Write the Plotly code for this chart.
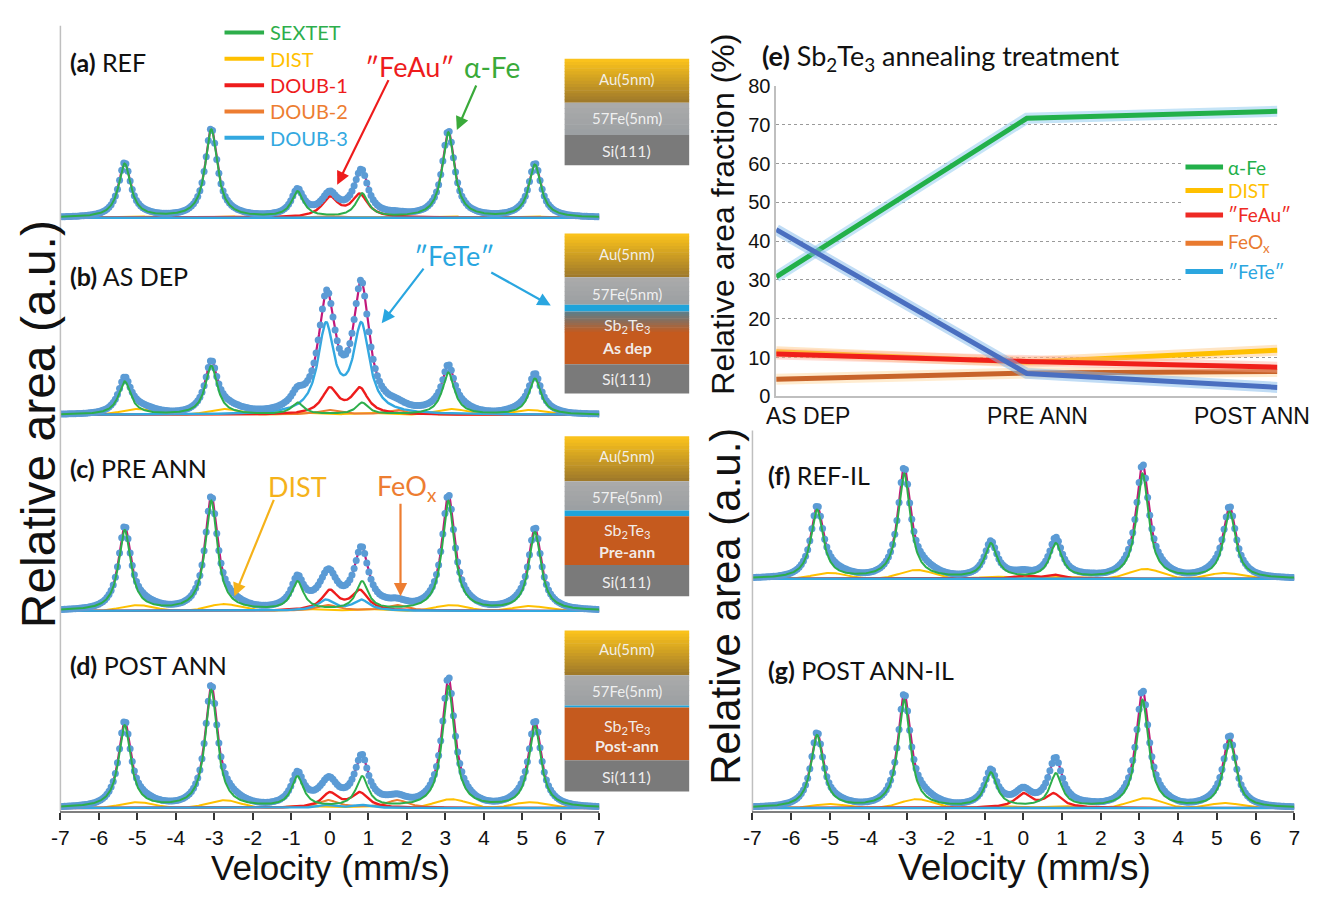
import numpy as np
import plotly.graph_objects as go

W, H = 1320, 898

# ======================= DATA =======================
# Mossbauer fit components: line positions (mm/s) and widths
SEXTET_POS = [-5.33, -3.08, -0.84, 0.84, 3.08, 5.33]   # SEXTET (alpha-Fe)
DIST_POS = [-5.0, -2.75, -0.7, 0.95, 3.15, 5.2]        # DIST (distributed sextet)
DOUB1_POS = [0.0, 0.78]                                # DOUB-1  "FeAu"
DOUB2_POS = [-0.05, 1.75]                              # DOUB-2  FeOx
DOUB3_POS = [-0.1, 0.82]                               # DOUB-3  "FeTe"
SEXTET_FWHM = 0.38
DIST_SIGMA = 0.42
DOUB1_FWHM = 0.5
DOUB2_FWHM = 0.65
DOUB3_FWHM = 0.5

# component line heights (a.u.) for each spectrum
SEXTET_A = [55, 90, 26, 24, 87, 54]
SEXTET_B = [34, 50, 12, 12, 43, 37]
SEXTET_C = [82, 112, 29, 29, 112, 80]
SEXTET_D = [84, 120, 31, 31, 124, 83]
SEXTET_F = [70, 107, 35, 35, 107, 68]
SEXTET_G = [74, 110, 35, 34, 110, 69]

DIST_A = [1.5, 1.5, 0.5, 0.5, 1.5, 1.5]
DIST_B = [6, 6, 2, 2, 6, 5]
DIST_C = [6, 7, 2, 2, 6, 5]
DIST_D = [6, 8, 2, 2, 9, 6]
DIST_F = [6, 9, 2, 2, 10, 6]
DIST_G = [4, 9, 2, 2, 10, 5]

DOUB1_A = [20, 23]
DOUB1_B = [26, 26]
DOUB1_C = [20, 20]
DOUB1_D = [15, 15]
DOUB1_F = [3, 4]
DOUB1_G = [14, 14]

DOUB2_A = [2, 2]
DOUB2_B = [5, 5]
DOUB2_C = [6, 6]
DOUB2_D = [8, 8]
DOUB2_F = [1, 1]
DOUB2_G = [1, 1]

DOUB3_A = [0, 0]
DOUB3_B = [89, 89]
DOUB3_C = [11, 11]
DOUB3_D = [3, 3]
DOUB3_F = [0, 0]
DOUB3_G = [0, 0]

PANEL_TAGS = ["(a)", "(b)", "(c)", "(d)", "(f)", "(g)"]
PANEL_NAMES = ["REF", "AS DEP", "PRE ANN", "POST ANN", "REF-IL", "POST ANN-IL"]
VEL_TICKS = [-7, -6, -5, -4, -3, -2, -1, 0, 1, 2, 3, 4, 5, 6, 7]
VEL_TICKTEXT = ["-7", "-6", "-5", "-4", "-3", "-2", "-1", "0", "1", "2", "3", "4", "5", "6", "7"]

# (e) relative area fractions (%)
TREATMENTS = ["AS DEP", "PRE ANN", "POST ANN"]
FRAC_ALPHA_FE = [30.8, 71.7, 73.5]
FRAC_DIST = [11.5, 8.8, 11.9]
FRAC_FEAU = [10.9, 9.0, 7.5]
FRAC_FEOX = [4.4, 6.0, 6.4]
FRAC_FETE = [43.0, 5.9, 2.3]

# ======================= helpers =======================
def lor(v, pos, hts, fw):
    out = np.zeros_like(v)
    for c, h in zip(pos, hts):
        out += h / (1.0 + ((v - c) / (fw / 2.0)) ** 2)
    return out


def gau(v, pos, hts, s):
    out = np.zeros_like(v)
    for c, h in zip(pos, hts):
        out += h * np.exp(-0.5 * ((v - c) / s) ** 2)
    return out


def X(p):
    return p / W


def Y(p):
    return 1 - p / H


ann = []
shapes = []


def note(x, y, text, size, color="#111111", family="Lato", xanchor="center", angle=0):
    ann.append(dict(x=X(x), y=Y(y), xref="paper", yref="paper", text=text, showarrow=False,
                    xanchor=xanchor, yanchor="middle", textangle=angle,
                    font=dict(family=family, size=size, color=color)))


C_SEXTET = "#2DAE4B"
C_DIST = "#FFC000"
C_D1 = "#EE1C1C"
C_D2 = "#ED7D31"
C_D3 = "#33A8E0"
C_TOT = "#C2187A"
C_DOT = "#5B9BD5"

VEL_CH = np.linspace(-7, 7, 256)     # measurement channels
VEL_FINE = np.linspace(-7, 7, 901)   # curve sampling

fig = go.Figure()

SPECTRA = [
    (SEXTET_A, DIST_A, DOUB1_A, DOUB2_A, DOUB3_A),
    (SEXTET_B, DIST_B, DOUB1_B, DOUB2_B, DOUB3_B),
    (SEXTET_C, DIST_C, DOUB1_C, DOUB2_C, DOUB3_C),
    (SEXTET_D, DIST_D, DOUB1_D, DOUB2_D, DOUB3_D),
    (SEXTET_F, DIST_F, DOUB1_F, DOUB2_F, DOUB3_F),
    (SEXTET_G, DIST_G, DOUB1_G, DOUB2_G, DOUB3_G),
]
# geometry of each spectrum panel: xaxis, yaxis, top px, bottom px, baseline px, label x, label y
PANEL_GEOM = [
    ("x", "y", 10, 218, 212, 60, 52),
    ("x", "y2", 218, 418, 414, 60, 272),
    ("x", "y3", 418, 620, 615, 60, 468),
    ("x", "y4", 620, 820, 817, 60, 670),
    ("x2", "y5", 430, 600, 582, 766, 476),
    ("x2", "y6", 600, 820, 817, 766, 676),
]


def total(v, sx, di, d1, d2, d3):
    return (lor(v, SEXTET_POS, sx, SEXTET_FWHM) + gau(v, DIST_POS, di, DIST_SIGMA)
            + lor(v, DOUB1_POS, d1, DOUB1_FWHM) + lor(v, DOUB2_POS, d2, DOUB2_FWHM)
            + lor(v, DOUB3_POS, d3, DOUB3_FWHM))


def line_trace(xv, yv, col, lw, xa, ya):
    fig.add_trace(go.Scatter(x=xv, y=yv, mode="lines", line=dict(color=col, width=lw),
                             xaxis=xa, yaxis=ya, hoverinfo="skip"))


layout_axes = {}
for i, ((sx, di, d1, d2, d3), (xa, ya, top, bot, base, lx, ly)) in enumerate(zip(SPECTRA, PANEL_GEOM)):
    line_trace(VEL_FINE, total(VEL_FINE, sx, di, d1, d2, d3), C_TOT, 2.2, xa, ya)
    line_trace(VEL_FINE, gau(VEL_FINE, DIST_POS, di, DIST_SIGMA), C_DIST, 2, xa, ya)
    line_trace(VEL_FINE, lor(VEL_FINE, DOUB2_POS, d2, DOUB2_FWHM), C_D2, 2, xa, ya)
    line_trace(VEL_FINE, lor(VEL_FINE, DOUB1_POS, d1, DOUB1_FWHM), C_D1, 2.4, xa, ya)
    line_trace(VEL_FINE, lor(VEL_FINE, DOUB3_POS, d3, DOUB3_FWHM), C_D3, 2.4, xa, ya)
    # measured points
    fig.add_trace(go.Scatter(x=VEL_CH, y=total(VEL_CH, sx, di, d1, d2, d3), mode="markers",
                             marker=dict(size=7, color=C_DOT), xaxis=xa, yaxis=ya,
                             hoverinfo="skip"))
    line_trace(VEL_FINE, lor(VEL_FINE, SEXTET_POS, sx, SEXTET_FWHM), C_SEXTET, 2, xa, ya)

    key = "yaxis" + ("" if ya == "y" else ya[1:])
    layout_axes[key] = dict(domain=[Y(bot), Y(top)], range=[-(bot - base), base - top],
                            visible=False, anchor=xa, fixedrange=True)
    note(lx, ly, "<b>%s</b> %s" % (PANEL_TAGS[i], PANEL_NAMES[i]), 25, xanchor="left")

# ======================= (e) line chart =======================
E_SERIES = [
    (FRAC_FEOX, "#C8642A", "rgba(255,200,120,0.35)"),
    (FRAC_DIST, "#FFC000", "rgba(255,190,110,0.40)"),
    (FRAC_FEAU, "#F0201A", "rgba(255,170,150,0.40)"),
    (FRAC_ALPHA_FE, "#22B04A", "rgba(150,205,240,0.55)"),
    (FRAC_FETE, "#4A6FC0", "rgba(130,185,235,0.50)"),
]
x_idx = list(range(len(TREATMENTS)))
for vals, col, glow in E_SERIES:
    line_trace(x_idx, vals, glow, 11, "x3", "y7")
    line_trace(x_idx, vals, col, 5, "x3", "y7")

layout_axes["yaxis7"] = dict(domain=[Y(395), Y(77)], range=[0, 80], dtick=10, anchor="x3",
                             showgrid=True, gridcolor="#9A9A9A", griddash="dot", gridwidth=1,
                             showline=True, linecolor="#BFBFBF", linewidth=1.5,
                             tickfont=dict(family="Liberation Sans", size=20, color="#111"),
                             ticks="", zeroline=False, fixedrange=True)
# category labels under (e)
for t, cx in zip(TREATMENTS, [808, 1040, 1257]):
    note(cx, 415, t, 23, family="Liberation Sans")

# ======================= axes =======================
tickfont = dict(family="Liberation Sans", size=21, color="#111")
common_x = dict(range=[-7, 7], tickvals=VEL_TICKS, ticktext=VEL_TICKTEXT,
                ticks="outside", ticklen=7, tickwidth=1.5, tickcolor="#333",
                showline=True, linecolor="#7F7F7F", linewidth=1.5, showgrid=False,
                zeroline=False, tickfont=tickfont, fixedrange=True)
fig.update_layout(
    width=W, height=H, margin=dict(l=0, r=0, t=0, b=0),
    paper_bgcolor="white", plot_bgcolor="rgba(0,0,0,0)", showlegend=False,
    xaxis=dict(domain=[X(52), X(597)], anchor="y4", **common_x),
    xaxis2=dict(domain=[X(752), X(1300)], anchor="y6", **common_x),
    xaxis3=dict(domain=[X(776), X(1283)], range=[0, 2], anchor="y7", showticklabels=False,
                showgrid=False, zeroline=False, showline=True, linecolor="#BFBFBF",
                linewidth=1.5, ticks="", fixedrange=True),
    **layout_axes,
)

# vertical axis lines of the spectra columns
shapes.append(dict(type="line", xref="paper", yref="paper", x0=X(52), x1=X(52), y0=Y(15), y1=Y(820),
                   line=dict(color="#BFBFBF", width=1.5)))
shapes.append(dict(type="line", xref="paper", yref="paper", x0=X(752), x1=X(752), y0=Y(430), y1=Y(820),
                   line=dict(color="#BFBFBF", width=1.5)))


# ======================= layer stacks =======================
def rect(x0, y0, x1, y1, color):
    shapes.append(dict(type="rect", xref="paper", yref="paper", x0=X(x0), x1=X(x1),
                       y0=Y(y1), y1=Y(y0), fillcolor=color, line=dict(width=0), layer="above"))


def grad(x0, y0, x1, y1, c0, c1, n=14):
    step = (y1 - y0) / n
    for k in range(n):
        t = k / (n - 1)
        c = tuple(int(round(a + (b - a) * t)) for a, b in zip(c0, c1))
        rect(x0, y0 + k * step, x1, min(y1, y0 + (k + 1) * step + 0.6), "rgb(%d,%d,%d)" % c)


SX0, SX1 = 562, 688
CX = (SX0 + SX1) / 2
AU_TOP, AU_BOT = (250, 194, 28), (160, 122, 42)
FE_TOP, FE_BOT = (170, 170, 170), (156, 160, 163)
SI = "#7A7A7A"
ORANGE = "#C55A1E"
BLUE = "#1FA3DA"
WT = "rgba(245,245,245,0.95)"

# (a)
grad(SX0, 49, SX1, 94, AU_TOP, AU_BOT)
grad(SX0, 94, SX1, 127, FE_TOP, FE_BOT, n=6)
rect(SX0, 127, SX1, 158, SI)
note(CX, 70, "Au(5nm)", 15, WT)
note(CX, 110, "57Fe(5nm)", 15, WT)
note(CX, 143, "Si(111)", 16, WT)
# (b)
grad(SX0, 228, SX1, 273, AU_TOP, AU_BOT)
grad(SX0, 273, SX1, 301, FE_TOP, FE_BOT, n=6)
rect(SX0, 301, SX1, 308, BLUE)
grad(SX0, 308, SX1, 331, (95, 125, 135), (197, 90, 30), n=10)
rect(SX0, 331, SX1, 362, ORANGE)
rect(SX0, 362, SX1, 392, SI)
note(CX, 249, "Au(5nm)", 15, WT)
note(CX, 290, "57Fe(5nm)", 15, WT)
note(CX, 322, "Sb<sub>2</sub>Te<sub>3</sub>", 16, WT)
note(CX, 345, "<b>As dep</b>", 16, WT)
note(CX, 377, "Si(111)", 16, WT)
# (c)
grad(SX0, 436, SX1, 482, AU_TOP, AU_BOT)
grad(SX0, 482, SX1, 512, FE_TOP, FE_BOT, n=6)
rect(SX0, 512, SX1, 518, BLUE)
rect(SX0, 518, SX1, 568, ORANGE)
rect(SX0, 568, SX1, 600, SI)
note(CX, 456, "Au(5nm)", 15, WT)
note(CX, 498, "57Fe(5nm)", 15, WT)
note(CX, 533, "Sb<sub>2</sub>Te<sub>3</sub>", 16, WT)
note(CX, 554, "<b>Pre-ann</b>", 16, WT)
note(CX, 585, "Si(111)", 16, WT)
# (d)
grad(SX0, 635, SX1, 681, AU_TOP, AU_BOT)
grad(SX0, 681, SX1, 712, FE_TOP, FE_BOT, n=6)
rect(SX0, 712, SX1, 714, BLUE)
rect(SX0, 714, SX1, 768, ORANGE)
rect(SX0, 768, SX1, 800, SI)
note(CX, 654, "Au(5nm)", 15, WT)
note(CX, 697, "57Fe(5nm)", 15, WT)
note(CX, 733, "Sb<sub>2</sub>Te<sub>3</sub>", 16, WT)
note(CX, 753, "<b>Post-ann</b>", 16, WT)
note(CX, 785, "Si(111)", 16, WT)

# ======================= legends =======================
LEG_LEFT = [("SEXTET", C_SEXTET), ("DIST", C_DIST), ("DOUB-1", C_D1), ("DOUB-2", C_D2), ("DOUB-3", C_D3)]
for k, (name, col) in enumerate(LEG_LEFT):
    yy = 22 + k * 27
    shapes.append(dict(type="line", xref="paper", yref="paper", x0=X(218), x1=X(258), y0=Y(yy), y1=Y(yy),
                       line=dict(color=col, width=4)))
    note(262, yy, name, 20, col, xanchor="left")

rect(1186, 146, 1300, 284, "white")
LEG_E = [("\u03b1-Fe", "#22B04A", 160), ("DIST", "#FFC000", 184), ("\u2033FeAu\u2033", "#EE2A24", 209),
         ("FeO<sub>x</sub>", "#E97A2F", 238), ("\u2033FeTe\u2033", "#2BA6DF", 267)]
for name, col, yy in LEG_E:
    shapes.append(dict(type="line", xref="paper", yref="paper", x0=X(1190), x1=X(1228), y0=Y(yy), y1=Y(yy),
                       line=dict(color=col, width=5), layer="above"))
    note(1231, yy, name, 19, col, xanchor="left")

# ======================= titles =======================
note(760, 48, "<b>(e)</b> Sb<sub>2</sub>Te<sub>3</sub> annealing treatment", 27, xanchor="left")
note(325, 878, "Velocity (mm/s)", 35, family="Liberation Sans")
note(1027, 878, "Velocity (mm/s)", 37, family="Liberation Sans")
note(30, 424, "Relative area (a.u.)", 48, family="Liberation Sans", angle=-90)
note(724, 610, "Relative area (a.u.)", 42, family="Liberation Sans", angle=-90)
note(722, 208, "Relative area fraction (%)", 32, family="Liberation Sans", angle=-90)


# ======================= arrows & callouts =======================
def callout(text, tx, ty, col, size, heads, tails):
    note(tx, ty, text, size, col)
    for (hx, hy), (sx_, sy_) in zip(heads, tails):
        ann.append(dict(x=X(hx), y=Y(hy), xref="paper", yref="paper", text="", showarrow=True,
                        ax=sx_ - hx, ay=sy_ - hy, arrowhead=2, arrowsize=1.2, arrowwidth=2.2,
                        arrowcolor=col))


callout("\u2033FeAu\u2033", 405, 57, "#EE1C1C", 27, [(332, 178)], [(384, 72)])
callout("\u03b1-Fe", 489, 57, "#3AAA3A", 28, [(453, 122)], [(473, 76)])
callout("\u2033FeTe\u2033", 450, 251, "#29A6E0", 27, [(377, 320), (548, 302)], [(420, 264), (487, 268)])
callout("DIST", 292, 487, "#F5B21A", 27, [(228, 600)], [(268, 502)])
callout("FeO<sub>x</sub>", 403, 488, "#ED7D31", 27, [(396, 600)], [(396, 506)])

fig.update_layout(shapes=shapes, annotations=ann)
fig.write_html("out.html")
